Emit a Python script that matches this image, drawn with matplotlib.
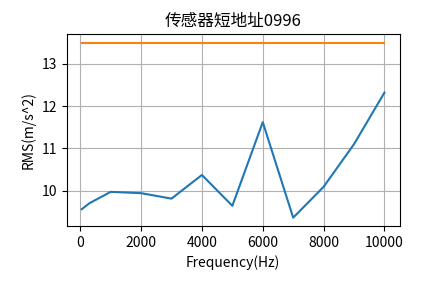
import matplotlib
matplotlib.use("Agg")
import matplotlib.pyplot as plt

plt.rcParams['font.family'] = ['Noto Sans CJK SC', 'DejaVu Sans']
plt.rcParams['axes.unicode_minus'] = False

freq = [50, 300, 1000, 2000, 3000, 4000, 5000, 6000, 7000, 8000, 9000, 10000]
rms = [9.56, 9.70, 9.97, 9.94, 9.81, 10.37, 9.64, 11.62, 9.36, 10.09, 11.10, 12.32]
limit_freq = [50, 10000]
limit_rms = [13.5, 13.5]

fig, ax = plt.subplots(figsize=(4.44, 2.83), dpi=100)
ax.plot(freq, rms)
ax.plot(limit_freq, limit_rms)
ax.set_title("传感器短地址0996")
ax.set_xlabel("Frequency(Hz)")
ax.set_ylabel("RMS(m/s^2)")
ax.grid(True)
plt.subplots_adjust(left=0.15, right=0.9, top=0.88, bottom=0.2)
plt.savefig("out.png", dpi=100)
plt.close(fig)
